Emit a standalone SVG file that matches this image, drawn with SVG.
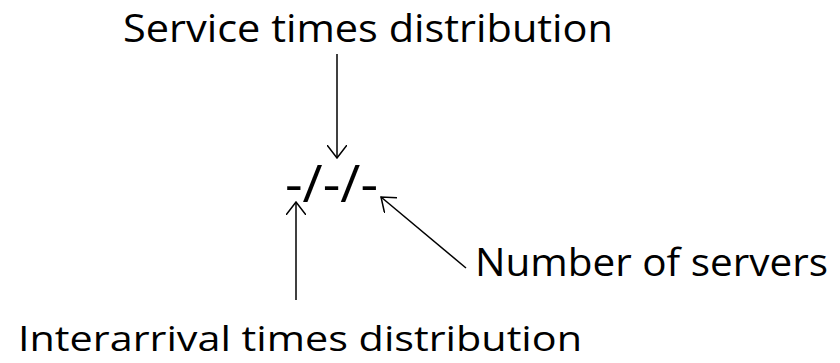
<svg xmlns="http://www.w3.org/2000/svg" width="840" height="363" viewBox="0 0 840 363">
<defs>
<style>
.t{font-family:"Open Sans","Liberation Sans",sans-serif;fill:#000;font-size:38px}
.c{stroke:#000;stroke-width:1.5;fill:none}
</style>
<marker id="ah" viewBox="0 0 14 20" refX="13" refY="10" markerWidth="14" markerHeight="20" markerUnits="userSpaceOnUse" orient="auto">
<path d="M0,0 L13,10 L0,20" fill="none" stroke="#000" stroke-width="1.5"/>
</marker>
</defs>
<rect width="840" height="363" fill="#fff"/>
<g id="service"><text class="t" x="123" y="42" textLength="490" lengthAdjust="spacingAndGlyphs">Service times distribution</text></g>
<g id="notation"><text class="t" x="285" y="202" style="font-size:52px" textLength="93" lengthAdjust="spacingAndGlyphs">-/-/-</text></g>
<g id="servers"><text class="t" x="475" y="276" textLength="353" lengthAdjust="spacingAndGlyphs">Number of servers</text></g>
<g id="interarrival"><text class="t" x="18" y="351" style="font-size:35px" textLength="564" lengthAdjust="spacingAndGlyphs">Interarrival times distribution</text></g>
<g id="connectors">
<line class="c" x1="337" y1="54" x2="337" y2="158" marker-end="url(#ah)"/>
<line class="c" x1="296" y1="300" x2="296" y2="202" marker-end="url(#ah)"/>
<line class="c" x1="466" y1="268" x2="381" y2="197" marker-end="url(#ah)"/>
</g>
</svg>
